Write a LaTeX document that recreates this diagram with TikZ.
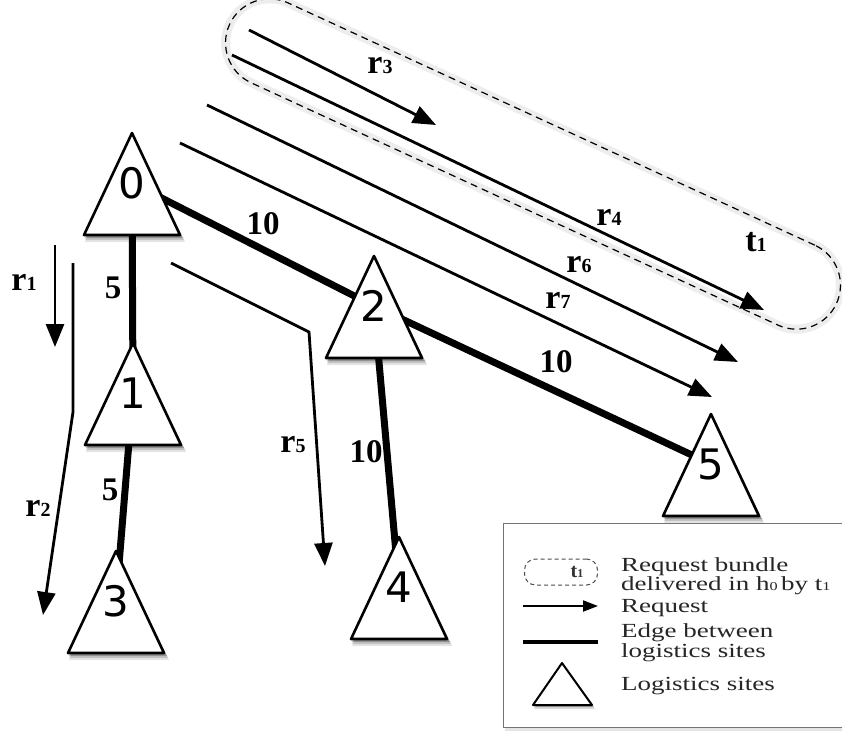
\documentclass[tikz,border=0pt]{standalone}
\usepackage{fontspec}
\setmainfont{Liberation Serif}
\newfontfamily\trifont{DejaVu Sans}
\newfontfamily\legfont[FakeStretch=1.35]{Liberation Serif}
\usetikzlibrary{arrows.meta}
\tikzset{
  req/.style={line width=2.8pt, -{Triangle[length=23pt,width=18pt]}},
  siteedge/.style={line width=7pt},
  sitetri/.style={draw, fill=white, line width=2.6pt, line join=round},
  siteshadow/.style={fill=black, draw=none},
  sitelbl/.style={font=\trifont\fontsize{42}{42}\selectfont, inner sep=0pt},
  wlbl/.style={font=\bfseries\fontsize{33}{33}\selectfont, inner sep=0pt},
  rlbl/.style={inner sep=0pt},
  bundlebox/.style={rounded corners=44pt, minimum width=668pt, minimum height=88pt, rotate=-24.7, inner sep=0pt},
  bundle/.style={bundlebox, draw, dashed, dash pattern=on 7pt off 5pt, line width=1.2pt},
  bundleglow/.style={bundlebox, draw=black!7, line width=9pt},
  legtxt/.style={font=\legfont\fontsize{20}{20}\selectfont, text=black!85, inner sep=0pt, anchor=base west},
}
\newcommand\rlab[2]{{\fontsize{34}{34}\selectfont\bfseries #1}{\fontsize{20}{20}\selectfont\bfseries #2}}
% site centre coordinate: name, apex x, apex y
\newcommand\sitept[3]{\coordinate (#1) at (#2,#3+50);}
% site drawing: name of label node, apex x, apex y, label
\newcommand\site[4]{%
  \fill[siteshadow, opacity=0.10] (#2-47,#3+109) -- (#2+2,#3+5) -- (#2+53,#3+109) -- cycle;
  \fill[siteshadow, opacity=0.15] (#2-47,#3+107) -- (#2+2,#3+4) -- (#2+52,#3+107) -- cycle;
  \fill[siteshadow, opacity=0.25] (#2-47,#3+105) -- (#2+1,#3+3) -- (#2+51,#3+105) -- cycle;
  \path[sitetri] (#2-48,#3+102) -- (#2,#3) -- (#2+48,#3+102) -- cycle;
  \node[sitelbl] (#1) at (#2,#3+50) {#4};}
\begin{document}
\begin{tikzpicture}[x=1pt,y=-1pt]
\useasboundingbox (0,0) rectangle (842,733);

% request bundle t1
\node[bundleglow] (t1g) at (533,164) {};
\node[bundle] (t1b) at (533,164) {};
\node[rlbl] (t1l) at (756,242) {\rlab{t}{1}};

% site centres and edges between sites
\sitept{c0}{132}{133}
\sitept{c1}{133}{343}
\sitept{c3}{116}{551}
\sitept{c2}{374}{256}
\sitept{c4}{399}{537}
\sitept{c5}{711}{414}
\draw[siteedge] (c0) -- (c1);
\draw[siteedge] (c1) -- (c3);
\draw[siteedge] (c0) -- (c2);
\draw[siteedge] (c2) -- (c4);
\draw[siteedge] (c2) -- (c5);

% logistics sites
\site{n0}{132}{133}{0}
\site{n1}{133}{343}{1}
\site{n3}{116}{551}{3}
\site{n2}{374}{256}{2}
\site{n4}{399}{537}{4}
\site{n5}{711}{414}{5}

\node[wlbl] (w01) at (113,288) {5};
\node[wlbl] (w13) at (110,490) {5};
\node[wlbl] (w02) at (263,224) {10};
\node[wlbl] (w24) at (366,452) {10};
\node[wlbl] (w25) at (556,362) {10};

% requests
\coordinate (r1s) at (55,245);  \coordinate (r1e) at (55,347);
\coordinate (r2s) at (73,263);  \coordinate (r2m) at (73,412);  \coordinate (r2e) at (43,615);
\coordinate (r5s) at (171,263); \coordinate (r5m) at (309,332); \coordinate (r5e) at (325,566);
\coordinate (r3s) at (249,30);  \coordinate (r3e) at (436,125);
\coordinate (r4s) at (232,55);  \coordinate (r4e) at (764,310);
\coordinate (r6s) at (207,105); \coordinate (r6e) at (738,362);
\coordinate (r7s) at (180,143); \coordinate (r7e) at (712,397);
\draw[req] (r1s) -- (r1e);
\draw[req, line join=miter] (r2s) -- (r2m) -- (r2e);
\draw[req, line join=miter] (r5s) -- (r5m) -- (r5e);
\draw[req] (r3s) -- (r3e);
\draw[req] (r4s) -- (r4e);
\draw[req] (r6s) -- (r6e);
\draw[req] (r7s) -- (r7e);
\node[rlbl] (lr1) at (24,282) {\rlab{r}{1}};
\node[rlbl] (lr2) at (38,508) {\rlab{r}{2}};
\node[rlbl] (lr3) at (380,66) {\rlab{r}{3}};
\node[rlbl] (lr4) at (609,217) {\rlab{r}{4}};
\node[rlbl] (lr5) at (293,445) {\rlab{r}{5}};
\node[rlbl] (lr6) at (579,265) {\rlab{r}{6}};
\node[rlbl] (lr7) at (558,300) {\rlab{r}{7}};

% legend
\fill[black, opacity=0.10] (505,526) rectangle (850,731);
\node[draw=black!55, line width=1.4pt, fill=white, anchor=north west,
      minimum width=350pt, minimum height=204pt, inner sep=0pt] (leg) at (503,523) {};
\node[draw=black!70, dashed, dash pattern=on 4pt off 3pt, line width=1pt, rounded corners=11pt,
      minimum width=73pt, minimum height=26pt, inner sep=0pt] (legb) at (561,572) {};
\node[inner sep=0pt, text=black!80] (legt) at (577,572)
      {{\fontsize{20}{20}\selectfont\bfseries t}{\fontsize{12}{12}\selectfont\bfseries 1}};
\coordinate (lra) at (523,606); \coordinate (lrb) at (598,606);
\draw[line width=2pt, -{Triangle[length=15pt,width=11pt]}] (lra) -- (lrb);
\coordinate (lea) at (523,642); \coordinate (leb) at (598,642);
\draw[line width=4.5pt] (lea) -- (leb);
\fill[black, opacity=0.15] (534,709) -- (563,666) -- (595,709) -- cycle;
\fill[black, opacity=0.25] (534,707) -- (563,665) -- (594,707) -- cycle;
\path[draw, fill=white, line width=2pt, line join=round]
      (533,705) -- (562,663) -- (592,705) -- cycle;
\node[legtxt] (l1) at (621,571) {Request bundle};
\node[legtxt] (l2) at (621,590) {delivered in h{\fontsize{12}{12}\selectfont 0}\,by t{\fontsize{12}{12}\selectfont 1}};
\node[legtxt] (l3) at (621,612) {Request};
\node[legtxt] (l4) at (621,637) {Edge between};
\node[legtxt] (l5) at (621,657) {logistics sites};
\node[legtxt] (l6) at (621,690) {Logistics sites};
\end{tikzpicture}
\end{document}
